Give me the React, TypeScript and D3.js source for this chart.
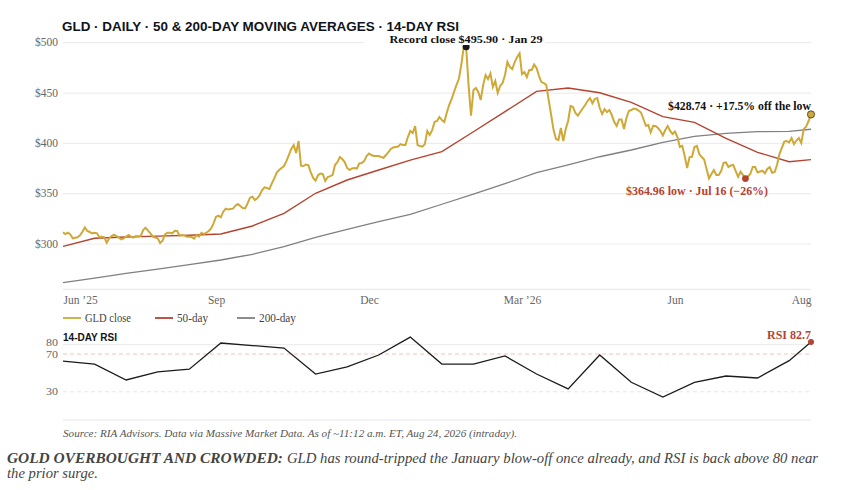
import * as d3 from "d3";
import { useRef, useEffect } from "react";

const WIDTH = 854;
const HEIGHT = 490;
const SERIF = "'Liberation Serif', serif";
const SANS = "'Liberation Sans', Arial, sans-serif";

// daily closes
const close = [
  311.6,309.9,311.2,309.6,305.6,306.3,306.6,308.6,312.2,316.5,
  312.9,311.9,310.6,311.2,310.6,306.6,307.3,306.6,301.3,305.6,
  307.9,309.2,307.9,306.3,304.6,305.6,307.3,308.9,307.3,306.3,
  307.9,307.6,307.9,313.9,316.2,313.2,310.6,307.3,306.3,305.6,
  301,303.3,309.6,311.2,311.2,310.6,313.2,312.9,308.3,308.9,
  308.3,307.3,307.3,306.9,305.3,308.9,307.3,311.2,309.9,311.2,
  312.9,315.5,320.5,327.1,328.1,326.5,332.1,335.1,334.4,334.8,
  335.1,338.1,339.7,337.7,335.7,335.4,340.4,346,347,343.7,
  345.4,348.7,353.6,356.3,355.6,354.6,360.3,365.2,370.9,373.5,
  375.5,377.5,382.4,388.4,394.4,398.3,390.4,402.3,377.8,377.5,
  379,378.5,371.5,365.6,362.9,368.5,370,369.5,362.6,366.6,
  367.5,368.5,378.5,381.4,386.4,384.4,381.4,375.5,373.5,375,
  375.5,375,380,380.5,382.4,387.4,389.9,388.4,387.4,387.4,
  387.4,386.4,385.7,388.4,391.4,394.4,395.9,396.4,396.9,399.3,
  398.3,398.3,406.3,412.3,410.3,417.2,398.3,397.4,396.7,399.3,
  412.3,408.3,413.2,421.2,422.2,426.2,423.2,421.2,430.1,438.1,
  444,451,457.9,463.9,477.8,495.7,495.9,457.9,427.4,453,
  455,451,443,457.9,467.9,463.9,469.4,456,461.9,450,
  457,460,467.9,480.8,475.8,473.8,480.8,485.8,489.4,468.9,
  470.9,465.9,472.9,472.9,478.3,474.8,466.9,460.9,459.9,457.9,
  443,428.2,413.2,404.3,403.3,415.2,402.3,414.2,422.2,437.1,
  436.1,430.1,427.6,431.1,434.6,438.1,442,445,439.8,444,
  445,435.1,429.1,434.1,431.1,433.1,428.1,421.2,417.2,423.7,
  423.7,414.2,425.2,432.1,433.1,434.6,434.1,432.6,430.6,424.2,
  417.5,418.2,410.8,417.5,417.2,415.2,412.3,407.8,413.2,417.2,
  412.3,409.3,411.8,406.3,396.4,397.4,387.4,375.5,386.4,386.7,
  396.4,397.4,389.4,386.4,383.9,374.5,365.3,369.5,373.5,368.5,
  368.5,372.5,380.5,381,376.5,378,378.5,372.5,366.8,371.8,
  368.5,364.96,367,369.5,376.5,376.5,371,372,372.8,370.2,
  374.5,376.5,370.8,371.3,378.5,389.4,395.4,401.8,402.3,401,
  405.3,399.3,402.8,405.3,400.3,414.2,416.5,422.2,428.74,
];

// the averages and the RSI are only sampled every 13 sessions, plus the last one
const sampleDays = [
  0,13,26,39,52,65,78,91,104,117,130,143,156,169,182,195,208,221,234,247,260,273,286,299,308,
];
const ma50 = [
  297.7,305.7,306.9,307.8,308.7,309.9,317.9,330.5,350.4,363.6,373.5,383.4,391.7,411.5,431.5,451.7,
  455,450.3,440.8,426.5,420.9,405,391.1,381.8,383.8,
];
const ma200 = [
  261.6,266,270.8,275,279.5,284.1,289.8,297.3,306.7,314.6,322.2,329.5,339.5,349.5,360,370.9,
  378.5,386.7,393.4,401,407,410,411.6,412,414,
];
const rsi = [
  62.6,59.4,42.5,51,54,81.7,79,76.4,48.8,56.3,69,88,59.4,59.4,68,48.8,33,69,40,24.4,40,46.7,44.6,63,82.7,
];

const priceTicks = [300, 350, 400, 450, 500];
const rsiTicks = [80, 70, 30];
const dateDays = [0, 63, 126, 189, 252, 308];
const dateLabels = ["Jun \u201925", "Sep", "Dec", "Mar \u201926", "Jun", "Aug"];
const RECORD_CLOSE = 495.9;
const LOW_CLOSE = 364.96;

const GOLD = "#cfa938";
const RED = "#b5432f";
const GREY = "#808080";
const INK = "#111";

export default function App() {
  const svgRef = useRef(null);

  useEffect(() => {
    const svg = d3.select(svgRef.current);
    svg.selectAll("*").remove(); // Clear previous render

    const x = d3.scaleLinear().domain([0, close.length - 1]).range([63, 811]);
    const y = d3.scaleLinear().domain([255, 500]).range([289.3, 42.7]);
    const yRsi = d3.scaleLinear().domain([0, 100]).range([420, 325.8]);

    const addText = (
      str: string,
      tx: number,
      ty: number,
      opts: { size: number; fill: string; anchor?: string; weight?: string; style?: string; family?: string; len?: number }
    ) => {
      const t = svg
        .append("text")
        .attr("x", tx)
        .attr("y", ty)
        .attr("font-family", opts.family || SERIF)
        .attr("font-size", opts.size)
        .attr("fill", opts.fill)
        .attr("text-anchor", opts.anchor || "start")
        .attr("font-weight", opts.weight || "normal")
        .attr("font-style", opts.style || "normal")
        .text(str);
      // georgia isn't installed, stretch to its width
      if (opts.len) t.attr("textLength", opts.len).attr("lengthAdjust", "spacingAndGlyphs");
      return t;
    };

    // Price grid
    priceTicks.forEach((d) => {
      svg.append("line")
        .attr("x1", 63).attr("x2", 811)
        .attr("y1", y(d)).attr("y2", y(d))
        .attr("stroke", "#ededed").attr("stroke-width", 1.2);
      addText(`$${d}`, 58, y(d) + 3.5, { size: 12, fill: "#666", anchor: "end", len: 23 });
    });
    svg.append("line")
      .attr("x1", 63).attr("x2", 811)
      .attr("y1", 289.3).attr("y2", 289.3)
      .attr("stroke", "#e6e6e6").attr("stroke-width", 1);

    // Lines
    const line = d3.line<number>().x((d, i) => x(sampleDays[i])).y((d) => y(d));
    const closeLine = d3.line<number>().x((d, i) => x(i)).y((d) => y(d));
    svg.append("path").attr("d", line(ma200)).attr("fill", "none").attr("stroke", GREY).attr("stroke-width", 1.3);
    svg.append("path").attr("d", line(ma50)).attr("fill", "none").attr("stroke", RED).attr("stroke-width", 1.4);
    svg.append("path").attr("d", closeLine(close)).attr("fill", "none").attr("stroke", GOLD).attr("stroke-width", 2);

    // Marked closes
    const peakDay = close.indexOf(RECORD_CLOSE);
    const lowDay = close.indexOf(LOW_CLOSE);
    const lastDay = close.length - 1;
    svg.append("circle").attr("cx", x(peakDay)).attr("cy", y(close[peakDay])).attr("r", 3.5).attr("fill", "#15181f");
    svg.append("rect").attr("x", 364).attr("y", 33).attr("width", 181).attr("height", 12).attr("fill", "#fff");
    svg.append("circle").attr("cx", x(lowDay)).attr("cy", y(close[lowDay])).attr("r", 3.4).attr("fill", RED);
    svg.append("circle").attr("cx", x(lastDay)).attr("cy", y(close[lastDay])).attr("r", 3.6)
      .attr("fill", GOLD).attr("stroke", "#333").attr("stroke-width", 0.8);

    addText("GLD \u00b7 DAILY \u00b7 50 & 200-DAY MOVING AVERAGES \u00b7 14-DAY RSI", 62, 30.5, {
      size: 13.5, fill: "#10131a", weight: "bold", family: SANS, len: 397,
    });
    addText("Record close $495.90 \u00b7 Jan 29", 466, 42.5, { size: 10.5, fill: INK, weight: "bold", anchor: "middle", len: 153 });
    addText("$428.74 \u00b7 +17.5% off the low", 811, 110, { size: 12, fill: INK, weight: "bold", anchor: "end", len: 143 });
    addText("$364.96 low \u00b7 Jul 16 (\u221226%)", 697, 195, { size: 12, fill: RED, weight: "bold", anchor: "middle", len: 142 });

    // Date axis
    const axis = d3.axisBottom(x)
      .tickValues(dateDays)
      .tickSize(0)
      .tickFormat((d, i) => dateLabels[i]);
    const axisG = svg.append("g").attr("transform", "translate(0,289.3)").call(axis);
    axisG.select(".domain").remove();
    axisG.selectAll("text")
      .attr("font-family", SERIF)
      .attr("font-size", 11.5)
      .attr("fill", "#666")
      .attr("y", 7)
      .attr("text-anchor", (d, i) => (i === 0 ? "start" : i === dateDays.length - 1 ? "end" : "middle"));

    // Legend
    const legend = [
      { label: "GLD close", color: GOLD, x0: 63, len: 46 },
      { label: "50-day", color: RED, x0: 155, len: 31 },
      { label: "200-day", color: GREY, x0: 237, len: 37 },
    ];
    legend.forEach((d) => {
      svg.append("line")
        .attr("x1", d.x0).attr("x2", d.x0 + 18)
        .attr("y1", 318).attr("y2", 318)
        .attr("stroke", d.color).attr("stroke-width", 1.8);
      addText(d.label, d.x0 + 22, 321.5, { size: 11.5, fill: "#444", len: d.len });
    });

    // RSI panel
    addText("14-DAY RSI", 63, 341, { size: 10, fill: "#10131a", weight: "bold", family: SANS, len: 54 });
    svg.append("line").attr("x1", 63).attr("x2", 811).attr("y1", yRsi(80)).attr("y2", yRsi(80))
      .attr("stroke", "#ededed").attr("stroke-width", 1.1);
    svg.append("line").attr("x1", 63).attr("x2", 811).attr("y1", yRsi(70)).attr("y2", yRsi(70))
      .attr("stroke", "#f2c4ba").attr("stroke-width", 1.1).attr("stroke-dasharray", "4,3");
    svg.append("line").attr("x1", 63).attr("x2", 811).attr("y1", yRsi(30)).attr("y2", yRsi(30))
      .attr("stroke", "#e8e8e8").attr("stroke-width", 1.1).attr("stroke-dasharray", "4,3");
    svg.append("line").attr("x1", 63).attr("x2", 811).attr("y1", yRsi(0)).attr("y2", yRsi(0))
      .attr("stroke", "#e6e6e6").attr("stroke-width", 1);
    rsiTicks.forEach((d) => {
      addText(String(d), 58, yRsi(d) + (d === 80 ? 1.5 : 3.5), { size: 10.5, fill: "#666", anchor: "end", len: 12 });
    });
    const rsiLine = d3.line<number>().x((d, i) => x(sampleDays[i])).y((d) => yRsi(d));
    svg.append("path").attr("d", rsiLine(rsi)).attr("fill", "none").attr("stroke", "#1c1c1c").attr("stroke-width", 1.3);
    svg.append("circle").attr("cx", 811).attr("cy", yRsi(rsi[rsi.length - 1])).attr("r", 3).attr("fill", RED);
    addText("RSI 82.7", 811, 339, { size: 12, fill: RED, weight: "bold", anchor: "end", len: 44 });

    // Notes
    addText("Source: RIA Advisors. Data via Massive Market Data. As of ~11:12 a.m. ET, Aug 24, 2026 (intraday).", 63, 437, {
      size: 11, fill: "#555", style: "italic", len: 454,
    });
    addText("GOLD OVERBOUGHT AND CROWDED:", 7, 463, { size: 15, fill: "#444", weight: "bold", style: "italic", len: 276 });
    addText("GLD has round-tripped the January blow-off once already, and RSI is back above 80 near", 287, 463, {
      size: 15, fill: "#444", style: "italic", len: 531,
    });
    addText("the prior surge.", 7, 478, { size: 15, fill: "#444", style: "italic", len: 91 });
  }, []);

  return (
    <svg
      ref={svgRef}
      width={WIDTH}
      height={HEIGHT}
      style={{ position: "absolute", left: 0, top: 0, display: "block", background: "#fff" }}
    />
  );
}
